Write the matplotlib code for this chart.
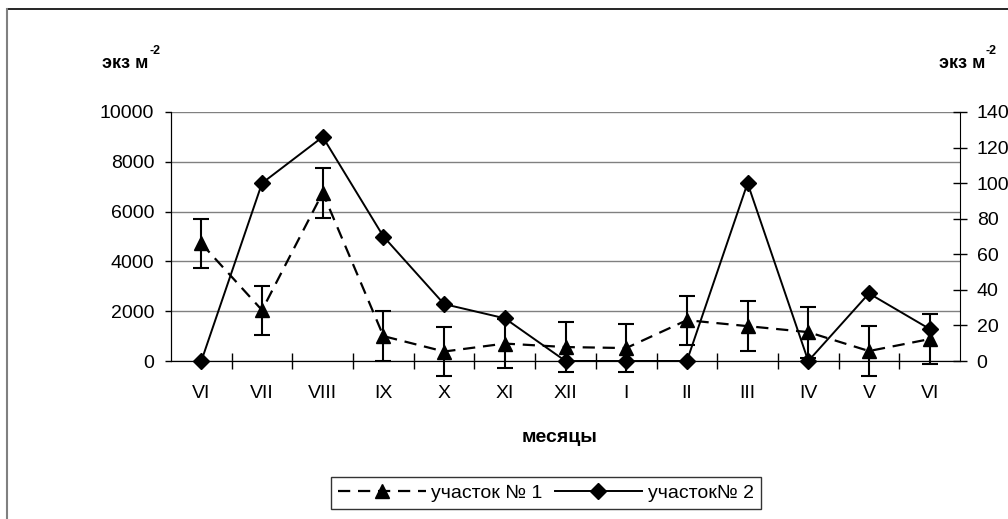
import numpy as np
import matplotlib
matplotlib.use("Agg")
import matplotlib.pyplot as plt
from matplotlib.lines import Line2D

plt.rcParams['font.family'] = ['Liberation Sans', 'DejaVu Sans']

# данные
months = ["VI", "VII", "VIII", "IX", "X", "XI", "XII", "I", "II", "III", "IV", "V", "VI"]
site1 = [4720, 2040, 6760, 1000, 380, 700, 560, 520, 1640, 1400, 1160, 400, 880]      # левая ось
site1_err = [1000, 980, 1000, 1000, 980, 1000, 1000, 980, 980, 1000, 1020, 1000, 1000]
site2 = [0, 100, 126, 70, 32, 24, 0, 0, 0, 100, 0, 38, 18]                           # правая ось

x = np.arange(len(months))

fig = plt.figure(figsize=(10.08, 5.19), dpi=100)
ax = fig.add_axes([171 / 1008, 1 - 361 / 519, (960 - 171) / 1008, (361 - 112) / 519])
ax2 = ax.twinx()

# участок 1 - пунктир с треугольниками и погрешностями
l1, = ax.plot(x, site1, color='black', lw=1.6, dashes=(5.5, 3.5), marker='^', ms=10,
              label='участок № 1', zorder=4)
ax.errorbar(x, site1, yerr=site1_err, fmt='none', ecolor='black', elinewidth=1.5,
            capsize=6, capthick=1.5, clip_on=False, zorder=4)

# участок 2 - сплошная с ромбами
l2, = ax2.plot(x, site2, color='black', lw=1.4, marker='D', ms=8.5,
               label='участок№ 2', clip_on=False, zorder=5)

ax.set_xlim(-0.5, len(months) - 0.5)
ax.set_ylim(0, 10000)
ax2.set_ylim(0, 140)

ax.set_yticks(np.arange(0, 10001, 2000))
ax2.set_yticks(np.arange(0, 141, 20))
ax.set_xticks(x)
ax.set_xticklabels(months)
ax.set_xticks(np.arange(-0.5, len(months), 1)[1:-1], minor=True)

ax.grid(axis='y', color='#808080', lw=1)
ax.set_axisbelow(True)

for a in (ax, ax2):
    a.spines['top'].set_visible(False)
ax.spines['right'].set_visible(False)

ax.tick_params(axis='y', direction='out', length=4, width=1, pad=8, labelsize=14)
ax.tick_params(axis='x', which='major', length=0, pad=17, labelsize=14)
ax.tick_params(axis='x', which='minor', direction='inout', length=11, width=1)
ax2.tick_params(axis='y', direction='inout', length=10, width=1, pad=7, labelsize=14)

# подписи осей
for xr in (148, 985):
    fig.text(xr / 1008, 1 - 64 / 519, 'экз м', ha='right', va='center',
             fontsize=13, fontweight='bold')
    fig.text((xr + 1) / 1008, 1 - 51 / 519, '-2', ha='left', va='center',
             fontsize=9, fontweight='bold')
fig.text(560 / 1008, 1 - 438 / 519, 'месяцы', ha='center', va='center',
         fontsize=14, fontweight='bold')

leg = fig.legend(handles=[l1, l2], loc='center', bbox_to_anchor=(546 / 1008, 1 - 493 / 519),
                 ncol=2, fontsize=14, frameon=True, fancybox=False, edgecolor='black',
                 handlelength=4.5, handletextpad=0.3, columnspacing=0.6,
                 borderpad=0.35)
leg.get_frame().set_linewidth(1)

# рамка
fig.add_artist(Line2D([8 / 1008, 1], [1 - 9 / 519, 1 - 9 / 519], color='black', lw=1.2))
fig.add_artist(Line2D([7 / 1008, 7 / 1008], [0, 1 - 9 / 519], color='#808080', lw=1.5))

fig.savefig('out.png', dpi=100)
